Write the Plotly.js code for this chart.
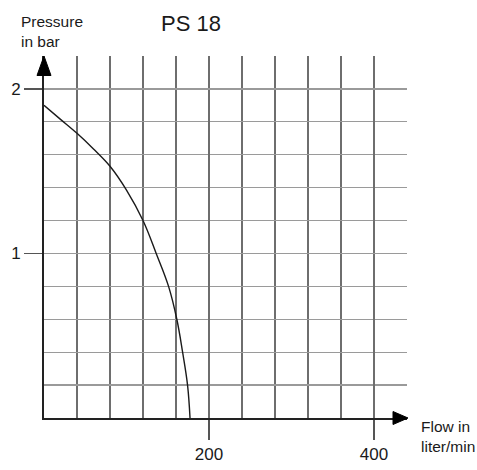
<!DOCTYPE html>
<html>
<head>
<meta charset="utf-8">
<script src="https://cdn.plot.ly/plotly-3.0.1.min.js"></script>
<style>html,body{margin:0;padding:0;background:#fff;}#chart{width:477px;height:470px;}</style>
</head>
<body>
<div id="chart"></div>
<script>
// Data (flow in liter/min, pressure in bar)
const flow = [0, 20, 40, 60, 80, 100, 120, 136, 151, 161, 168, 174, 177];
const pressure = [1.9, 1.815, 1.73, 1.635, 1.53, 1.385, 1.2, 1.0, 0.8, 0.6, 0.4, 0.2, 0];

const xTickVals = [200, 400];
const xTickText = ["200", "400"];
const yTickVals = [1, 2];
const yTickText = ["1", "2"];
const xGrid = [40, 80, 120, 160, 240, 280, 320, 360];
const yGrid = [0.2, 0.4, 0.6, 0.8, 1.2, 1.4, 1.6, 1.8];

const FONT = "Liberation Sans, Arial, sans-serif";
const VGRID = "#6e6e6e";
const HGRID = "#9a9a9a";

const trace = {
  x: flow, y: pressure, type: "scatter", mode: "lines",
  line: {color: "#1a1a1a", width: 1.4, shape: "spline", smoothing: 1.1},
  hoverinfo: "skip"
};

const layout = {
  width: 477, height: 470,
  margin: {l: 44, r: 70, t: 56, b: 52},
  paper_bgcolor: "#fff", plot_bgcolor: "#fff",
  showlegend: false,
  font: {family: FONT, color: "#222"},
  title: {text: "PS 18", font: {size: 22, family: FONT, color: "#1a1a1a"},
          x: 191/477, xanchor: "center", y: 1 - 23/470, yanchor: "middle"},
  xaxis: {
    range: [0, 440], fixedrange: true,
    tickmode: "array", tickvals: xTickVals, ticktext: xTickText,
    ticks: "outside", ticklen: 20, tickwidth: 1.5, tickcolor: "#555",
    tickfont: {size: 17, family: FONT, color: "#1a1a1a"},
    showgrid: true, gridcolor: VGRID, gridwidth: 1.1,
    minor: {tickmode: "array", tickvals: xGrid, showgrid: true, gridcolor: VGRID, gridwidth: 1.1, ticks: ""},
    showline: true, linecolor: "#222", linewidth: 2, zeroline: false
  },
  yaxis: {
    range: [0, 2.2], fixedrange: true,
    tickmode: "array", tickvals: yTickVals, ticktext: yTickText,
    ticks: "outside", ticklen: 18, tickwidth: 1.5, tickcolor: "#555",
    tickfont: {size: 17, family: FONT, color: "#1a1a1a"},
    showgrid: true, gridcolor: HGRID, gridwidth: 1.3,
    minor: {tickmode: "array", tickvals: yGrid, showgrid: true, gridcolor: HGRID, gridwidth: 1.3, ticks: ""},
    showline: true, linecolor: "#222", linewidth: 2, zeroline: false
  },
  shapes: [
    // arrow head at end of x axis
    {type: "path", xref: "paper", yref: "paper",
     path: "M " + (349/363) + " " + (6.5/362) + " L " + (364/363) + " 0 L " + (349/363) + " " + (-6.5/362) + " Z",
     fillcolor: "#000", line: {color: "#000", width: 1}},
    // arrow head at top of y axis
    {type: "path", xref: "paper", yref: "paper",
     path: "M " + (-7/363) + " " + (1 - 19.5/362) + " L 0 1 L " + (7/363) + " " + (1 - 19.5/362) + " Z",
     fillcolor: "#000", line: {color: "#000", width: 1}}
  ],
  annotations: [
    {text: "Pressure<br>in bar", xref: "paper", yref: "paper", showarrow: false,
     x: (19 - 44)/363, xanchor: "left", y: (418 - 31)/362, yanchor: "middle", align: "left",
     font: {size: 15.5, family: FONT, color: "#1a1a1a"}},
    {text: "Flow in<br>liter/min", xref: "paper", yref: "paper", showarrow: false,
     x: (419 - 44)/363, xanchor: "left", y: (418 - 436)/362, yanchor: "middle", align: "left",
     font: {size: 15.5, family: FONT, color: "#1a1a1a"}}
  ]
};

Plotly.newPlot("chart", [trace], layout, {displayModeBar: false, staticPlot: true});
</script>
</body>
</html>
